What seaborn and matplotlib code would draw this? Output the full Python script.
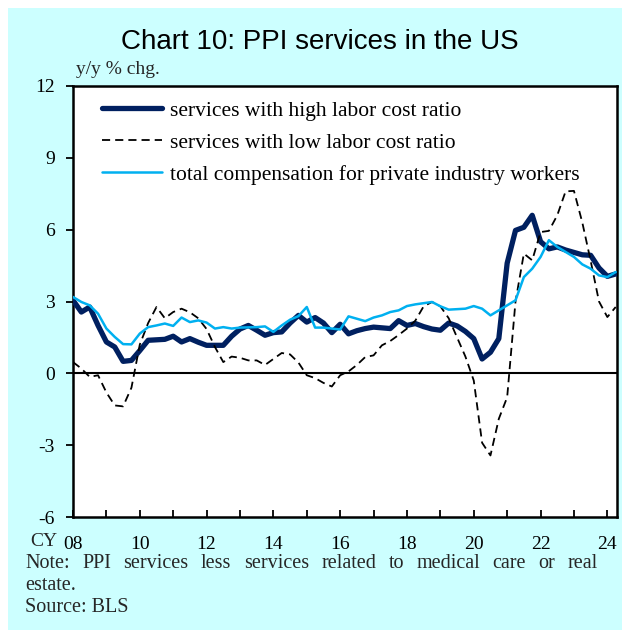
import matplotlib
matplotlib.use("Agg")
import numpy as np
import pandas as pd
import seaborn as sns
import matplotlib.pyplot as plt
from matplotlib.patches import Rectangle

# ---------------- data (quarterly, 2008Q1 - 2024Q2) ----------------
start_year = 2008
high_labor = [3.05, 2.56, 2.77, 2.0, 1.31, 1.1, 0.5, 0.54, 0.95, 1.38,
              1.4, 1.42, 1.55, 1.31, 1.45, 1.3, 1.17, 1.17, 1.17, 1.55,
              1.85, 2.0, 1.8, 1.59, 1.7, 1.73, 2.1, 2.42, 2.14, 2.33,
              2.1, 1.7, 2.05, 1.65, 1.78, 1.87, 1.93, 1.9, 1.87, 2.2,
              2.0, 2.08, 1.95, 1.85, 1.8, 2.1, 1.98, 1.75, 1.45, 0.6,
              0.88, 1.45, 4.6, 5.97, 6.1, 6.6, 5.5, 5.2, 5.28, 5.15,
              5.05, 4.95, 4.93, 4.4, 4.05, 4.15]
low_labor = [0.47, 0.2, -0.15, -0.08, -0.8, -1.34, -1.38, -0.6, 1.2, 2.1,
             2.77, 2.3, 2.56, 2.7, 2.55, 2.3, 1.85, 1.1, 0.47, 0.7,
             0.65, 0.54, 0.54, 0.35, 0.6, 0.85, 0.79, 0.45, -0.08, -0.2,
             -0.4, -0.55, -0.08, 0.08, 0.35, 0.68, 0.75, 1.17, 1.35, 1.6,
             1.87, 2.2, 2.8, 2.98, 2.8, 2.3, 1.5, 0.7, -0.3, -2.9,
             -3.43, -1.9, -1.0, 3.0, 5.0, 4.72, 5.9, 5.95, 6.6, 7.6,
             7.62, 6.3, 4.7, 3.0, 2.35, 2.77]
compensation = [3.19, 2.98, 2.84, 2.49, 1.87, 1.52, 1.22, 1.21, 1.66, 1.93,
                2.0, 2.08, 1.98, 2.33, 2.14, 2.21, 2.12, 1.87, 1.93, 1.87,
                1.91, 1.92, 1.93, 1.96, 1.73, 2.0, 2.24, 2.39, 2.77, 1.91,
                1.91, 1.87, 1.83, 2.38, 2.28, 2.18, 2.33, 2.42, 2.56, 2.63,
                2.81, 2.88, 2.93, 2.98, 2.8, 2.66, 2.68, 2.7, 2.81, 2.7,
                2.42, 2.63, 2.84, 3.05, 4.02, 4.37, 4.86, 5.56, 5.28, 5.07,
                4.86, 4.55, 4.37, 4.09, 4.02, 4.23]
series_labels = ["services with high labor cost ratio",
                 "services with low labor cost ratio",
                 "total compensation for private industry workers"]
x_tick_years = list(range(2008, 2025))
x_tick_labels = ["08", "", "10", "", "12", "", "14", "", "16", "", "18", "",
                 "20", "", "22", "", "24"]
y_ticks = [-6, -3, 0, 3, 6, 9, 12]
note_line1 = "Note: PPI services less services related to medical care or real"
note_line2 = "estate."
source_line = "Source: BLS"

t = start_year + np.arange(len(high_labor)) / 4.0
df = pd.DataFrame({"t": t, "high": high_labor, "low": low_labor, "comp": compensation})

# ---------------- style ----------------
sns.set_theme(style="white")
plt.rcParams["font.family"] = ["Liberation Serif", "DejaVu Serif"]

W, H = 622, 630
fig = plt.figure(figsize=(W / 100, H / 100), dpi=100, facecolor="white")
fig.patches.append(Rectangle((8 / W, 0), 1, 1 - 8 / H, transform=fig.transFigure,
                             facecolor="#CCFFFF", edgecolor="none", zorder=-10))

ax = fig.add_axes([73 / W, 1 - 517 / H, (616.7 - 73) / W, (517 - 86) / H])
ax.set_facecolor("white")

navy = "#002060"
cyan = "#00B0F0"

sns.lineplot(data=df, x="t", y="high", ax=ax, color=navy, linewidth=3.8,
             label=series_labels[0], zorder=3)
sns.lineplot(data=df, x="t", y="low", ax=ax, color="black", linewidth=1.3,
             label=series_labels[1], zorder=4)
ax.lines[-1].set_dashes([4.5, 2.8])
sns.lineplot(data=df, x="t", y="comp", ax=ax, color=cyan, linewidth=1.8,
             label=series_labels[2], zorder=5)

ax.axhline(0, color="black", linewidth=1.5, zorder=2)

ax.set_xlim(2008, 2024.28)
ax.set_ylim(-6, 12)
ax.set_xticks(x_tick_years)
ax.set_xticklabels(x_tick_labels, fontsize=14)
ax.set_yticks(y_ticks)
ax.set_yticklabels([str(v) for v in y_ticks], fontsize=14)
ax.set_xlabel("")
ax.set_ylabel("")
ax.tick_params(axis="x", direction="in", length=5, width=1.3, pad=14, colors="black")
ax.tick_params(axis="y", direction="out", length=5, width=1.3, pad=8, colors="black")
ax.tick_params(bottom=True, left=True)
for s in ax.spines.values():
    s.set_color("black")
    s.set_linewidth(1.8)

leg = ax.legend(loc="upper left", bbox_to_anchor=((102 - 73) / 543.7, 0.966),
                frameon=False, fontsize=15.5, handlelength=2.8, handletextpad=0.35,
                labelspacing=0.55, borderaxespad=0, borderpad=0)
for txt in leg.get_texts():
    txt.set_color("black")

fig.text(320 / W, 1 - 42 / H, "Chart 10: PPI services in the US", family="Liberation Sans",
         fontsize=20, ha="center", va="center", color="black")
fig.text(76 / W, 1 - 70 / H, "y/y % chg.", fontsize=14, ha="left", va="center")
fig.text(57 / W, 1 - 541 / H, "CY", fontsize=14, ha="right", va="center")

# justified first note line (from x=25 to x=598 px)
renderer = fig.canvas.get_renderer()
words = note_line1.split(" ")
word_objs = [fig.text(0, 1 - 564 / H, w, fontsize=14.5, ha="left", va="center") for w in words]
widths = [o.get_window_extent(renderer).width for o in word_objs]
left_px, right_px = 25, 598
gap = (right_px - left_px - sum(widths)) / (len(words) - 1)
xpos = left_px
for o, w in zip(word_objs, widths):
    o.set_x(xpos / W)
    xpos += w + gap

fig.text(25 / W, 1 - 586 / H, note_line2, fontsize=14.5, ha="left", va="center")
fig.text(25 / W, 1 - 608 / H, source_line, fontsize=14.5, ha="left", va="center")

fig.savefig("out.png", dpi=100, facecolor=fig.get_facecolor())
